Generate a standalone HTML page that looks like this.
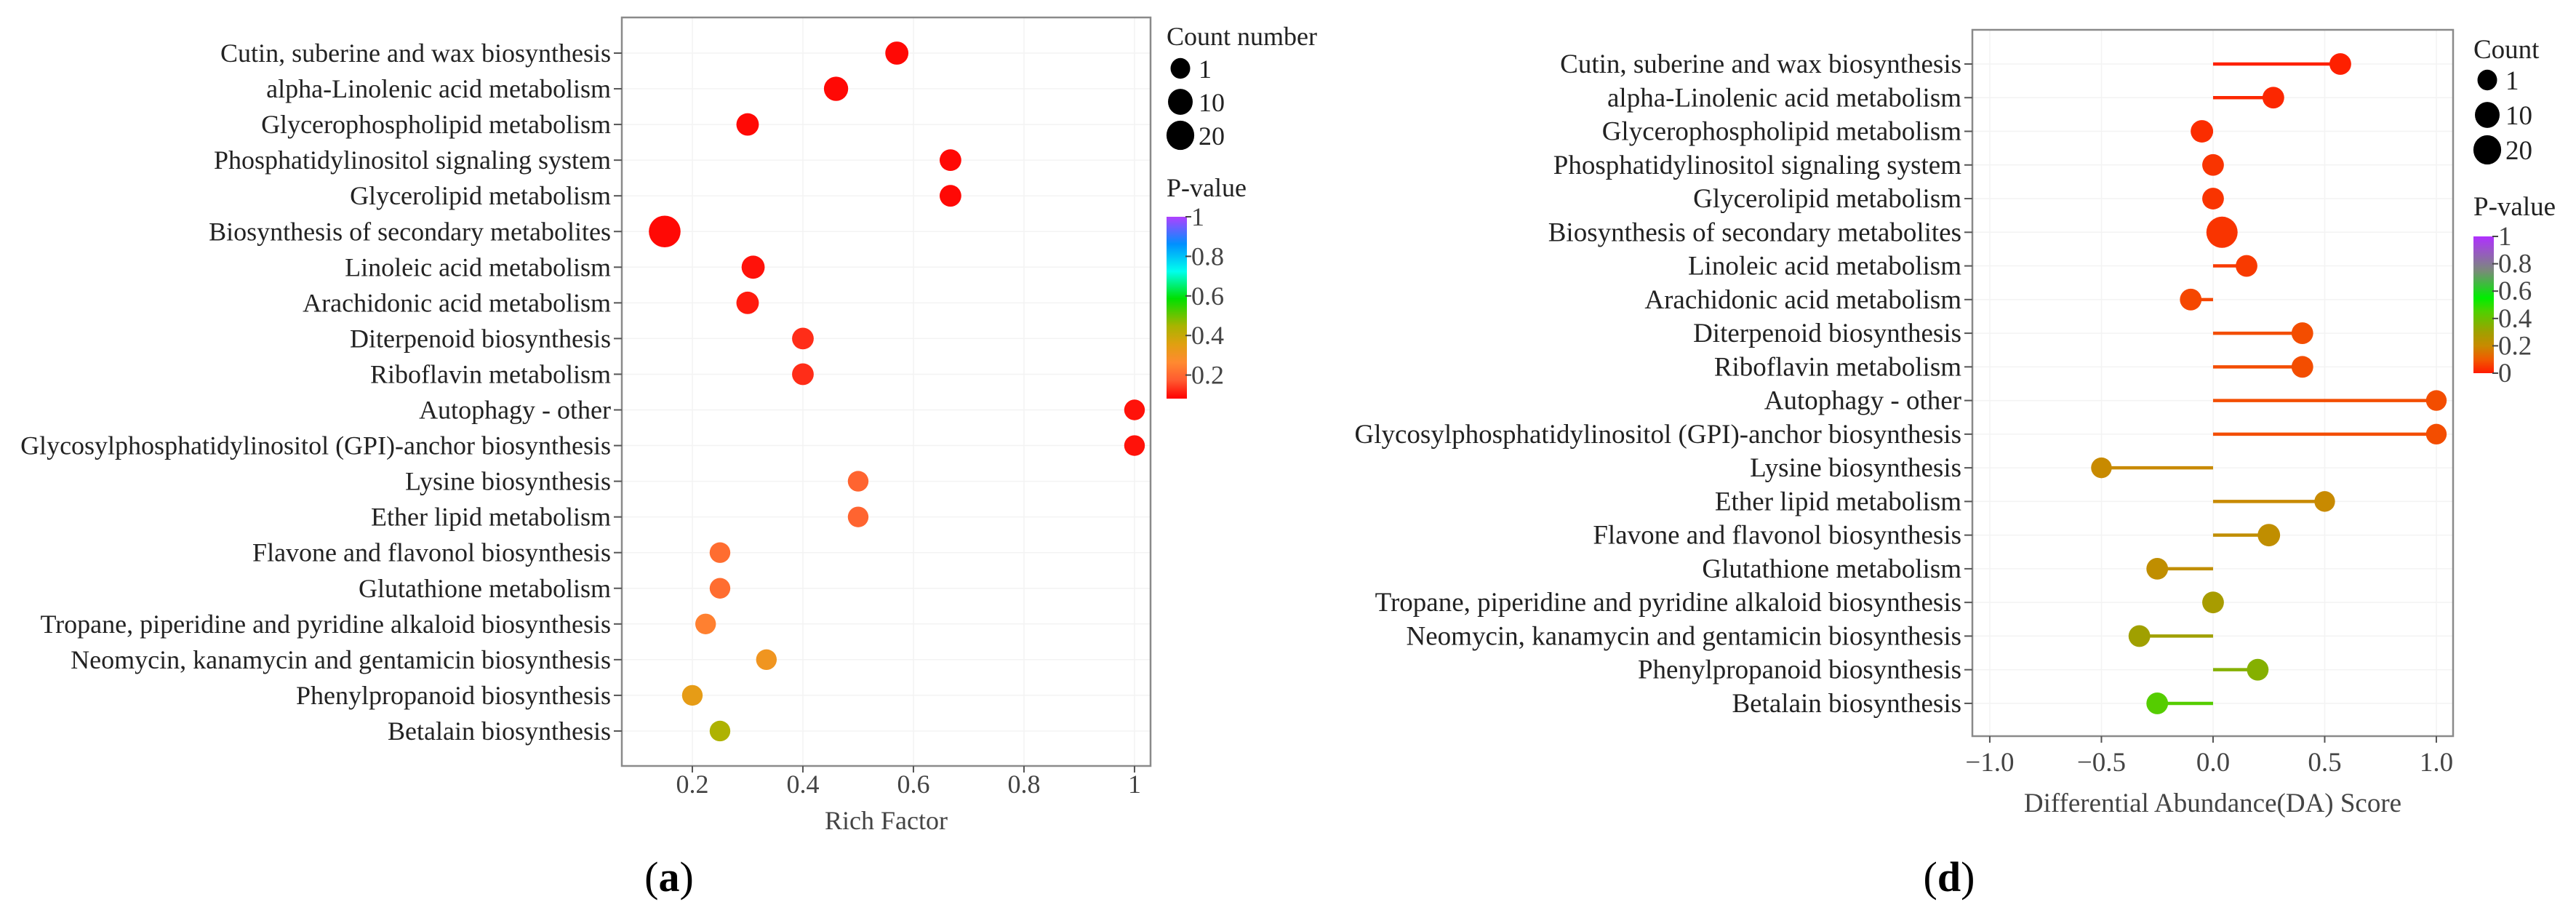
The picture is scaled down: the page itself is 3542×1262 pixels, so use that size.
<!DOCTYPE html>
<html><head><meta charset="utf-8"><style>
html,body{margin:0;padding:0;background:#fff;}
svg{display:block;font-family:"Liberation Serif",serif;}
</style></head><body>
<svg id="fig" width="3542" height="1262" viewBox="0 0 3542 1262" xmlns="http://www.w3.org/2000/svg">
<defs>
<linearGradient id="gradA" x1="0" y1="1" x2="0" y2="0">
<stop offset="0" stop-color="#ff0000"/><stop offset="0.1" stop-color="#ff5a30"/><stop offset="0.2" stop-color="#ff8a30"/><stop offset="0.3" stop-color="#e0a010"/><stop offset="0.4" stop-color="#a8b400"/><stop offset="0.55" stop-color="#00e000"/><stop offset="0.7" stop-color="#00ffee"/><stop offset="0.85" stop-color="#0090ff"/><stop offset="1" stop-color="#b040ff"/>
</linearGradient>
<linearGradient id="gradD" x1="0" y1="1" x2="0" y2="0">
<stop offset="0" stop-color="#ff1a00"/><stop offset="0.1" stop-color="#f05a00"/><stop offset="0.2" stop-color="#c88a00"/><stop offset="0.3" stop-color="#a0a000"/><stop offset="0.45" stop-color="#50d000"/><stop offset="0.55" stop-color="#00ee00"/><stop offset="0.75" stop-color="#7a8a7a"/><stop offset="1" stop-color="#b030ff"/>
</linearGradient>
</defs>
<g id="chartA"></g>
<g id="chartD"></g>
</svg>
<script>
// ---- Data: panel (a)
const categoriesA = ["Cutin, suberine and wax biosynthesis","alpha-Linolenic acid metabolism","Glycerophospholipid metabolism","Phosphatidylinositol signaling system","Glycerolipid metabolism","Biosynthesis of secondary metabolites","Linoleic acid metabolism","Arachidonic acid metabolism","Diterpenoid biosynthesis","Riboflavin metabolism","Autophagy - other","Glycosylphosphatidylinositol (GPI)-anchor biosynthesis","Lysine biosynthesis","Ether lipid metabolism","Flavone and flavonol biosynthesis","Glutathione metabolism","Tropane, piperidine and pyridine alkaloid biosynthesis","Neomycin, kanamycin and gentamicin biosynthesis","Phenylpropanoid biosynthesis","Betalain biosynthesis"];
const richFactorA = [0.57,0.46,0.30,0.667,0.667,0.15,0.31,0.30,0.40,0.40,1.0,1.0,0.50,0.50,0.25,0.25,0.224,0.334,0.20,0.25];
const countA = [4,6,3,2,2,30,4,3,2,2,1,1,1,1,1,1,1,1,1,1];
const pValueA = [0.01,0.01,0.01,0.01,0.01,0.01,0.02,0.03,0.05,0.05,0.02,0.02,0.12,0.12,0.14,0.14,0.18,0.25,0.28,0.39];
const xTicksA = [0.2,0.4,0.6,0.8,1];
const xTickLabelsA = ["0.2","0.4","0.6","0.8","1"];
const pTicksA = [1,0.8,0.6,0.4,0.2];
const pTickLabelsA = ["1","0.8","0.6","0.4","0.2"];
// ---- Data: panel (d)
const categoriesD = ["Cutin, suberine and wax biosynthesis","alpha-Linolenic acid metabolism","Glycerophospholipid metabolism","Phosphatidylinositol signaling system","Glycerolipid metabolism","Biosynthesis of secondary metabolites","Linoleic acid metabolism","Arachidonic acid metabolism","Diterpenoid biosynthesis","Riboflavin metabolism","Autophagy - other","Glycosylphosphatidylinositol (GPI)-anchor biosynthesis","Lysine biosynthesis","Ether lipid metabolism","Flavone and flavonol biosynthesis","Glutathione metabolism","Tropane, piperidine and pyridine alkaloid biosynthesis","Neomycin, kanamycin and gentamicin biosynthesis","Phenylpropanoid biosynthesis","Betalain biosynthesis"];
const daScoreD = [0.57,0.27,-0.05,0.0,0.0,0.04,0.15,-0.1,0.4,0.4,1.0,1.0,-0.5,0.5,0.25,-0.25,0.0,-0.33,0.2,-0.25];
const countD = [2,2,3,2,2,28,2,2,2,2,1,1,1,1,3,2,2,2,2,2];
const pValueD = [0.01,0.02,0.03,0.04,0.04,0.04,0.05,0.07,0.08,0.08,0.08,0.08,0.2,0.2,0.22,0.22,0.28,0.3,0.35,0.44];
const xTicksD = [-1,-0.5,0,0.5,1];
const xTickLabelsD = ["\u22121.0","\u22120.5","0.0","0.5","1.0"];
const pTicksD = [1,0.8,0.6,0.4,0.2,0];
const pTickLabelsD = ["1","0.8","0.6","0.4","0.2","0"];
const legendCounts = [1,10,20];

const NS = "http://www.w3.org/2000/svg";
function mk(parent, tag, attrs, text){
  const e = document.createElementNS(NS, tag);
  for (const k in attrs) e.setAttribute(k, attrs[k]);
  if (text !== undefined) e.textContent = text;
  parent.appendChild(e);
  return e;
}
function hex(c){return [parseInt(c.slice(1,3),16),parseInt(c.slice(3,5),16),parseInt(c.slice(5,7),16)];}
function ramp(stops, v){
  for (let i=1;i<stops.length;i++){
    if (v<=stops[i][0]){
      const a=stops[i-1],b=stops[i];const t=(v-a[0])/(b[0]-a[0]);
      const ca=hex(a[1]),cb=hex(b[1]);
      return "rgb("+ca.map((x,j)=>Math.round(x+(cb[j]-x)*t)).join(",")+")";
    }
  }
  return stops[stops.length-1][1];
}
const stopsA=[[0,"#ff0000"],[0.1,"#ff5a30"],[0.2,"#ff8a30"],[0.3,"#e0a010"],[0.4,"#a8b400"],[0.55,"#00e000"],[0.7,"#00ffee"],[0.85,"#0090ff"],[1,"#b040ff"]];
const stopsD=[[0,"#ff1a00"],[0.1,"#f05a00"],[0.2,"#c88a00"],[0.3,"#a0a000"],[0.45,"#50d000"],[0.55,"#00ee00"],[0.75,"#7a8a7a"],[1,"#b030ff"]];
function rad(n){return 12.5+1.7*Math.sqrt(n);}

function buildChart(cfg){
  const g = document.getElementById(cfg.id);
  const P = cfg.panel;
  const xs = v => P.l + (v - cfg.xmin)/(cfg.xmax-cfg.xmin)*(P.r-P.l);
  const ys = i => cfg.y0 + i*cfg.dy;
  cfg.cats.forEach((c,i)=>{
    const gl = mk(g,"line",{x1:P.l,x2:P.r,y1:ys(i),y2:ys(i),stroke:"#f3f3f3","stroke-width":1.5});
    
    
  });
  cfg.xt.forEach(v=>{
    const gl = mk(g,"line",{x1:xs(v),x2:xs(v),y1:P.t,y2:P.b,stroke:"#f3f3f3","stroke-width":1.5});
    
    
  });
  const fr = mk(g,"rect",{x:P.l,y:P.t,width:P.r-P.l,height:P.b-P.t,fill:"none",stroke:"#8a8a8a","stroke-width":2.5});
  
  
  cfg.cats.forEach((c,i)=>{
    const tk = mk(g,"line",{x1:P.l-11,x2:P.l,y1:ys(i),y2:ys(i),stroke:"#555","stroke-width":2});
    
    
    const t = mk(g,"text",{x:P.l-15,y:ys(i)+12,"text-anchor":"end","font-size":cfg.fs,fill:"#222"},c);
    
    
  });
  cfg.xt.forEach((v,i)=>{
    const tk = mk(g,"line",{x1:xs(v),x2:xs(v),y1:P.b,y2:P.b+9,stroke:"#555","stroke-width":2});
    
    
    const t = mk(g,"text",{x:xs(v),y:cfg.xtY,"text-anchor":"middle","font-size":cfg.fs,fill:"#444"},cfg.xtl[i]);
    
    
  });
  const xt = mk(g,"text",{x:(P.l+P.r)/2,y:cfg.xtitleY,"text-anchor":"middle","font-size":cfg.fs,fill:"#444"},cfg.xtitle);
  
  
  cfg.vals.forEach((v,i)=>{
    const col = ramp(cfg.stops, cfg.pv[i]);
    if (cfg.lollipop){
      const ln = mk(g,"line",{x1:xs(0),x2:xs(v),y1:ys(i),y2:ys(i),stroke:col,"stroke-width":4.5});
      
      
    }
    const r = rad(cfg.cnt[i]);
    const c = mk(g,"ellipse",{cx:xs(v),cy:ys(i),rx:r,ry:r,fill:col});
    
    
  });
  const L = cfg.leg;
  const lt = mk(g,"text",{x:L.x,y:L.titleY,"font-size":cfg.fs,fill:"#222"},cfg.sizeTitle);
  
  
  legendCounts.forEach((n,i)=>{
    const r = rad(n);
    const y = L.dotY0 + i*L.dotDy;
    const d = mk(g,"ellipse",{cx:L.x+19,cy:y,rx:r*0.95,ry:r,fill:"#000"});
    
    
    const t = mk(g,"text",{x:L.x+44,y:y+13,"font-size":cfg.fs,fill:"#222"},String(n));
    
    
  });
  const pt = mk(g,"text",{x:L.x,y:L.pTitleY,"font-size":cfg.fs,fill:"#222"},"P-value");
  
  
  const pys = v => L.barTop + (1-v)*L.barPer;
  const bar = mk(g,"rect",{x:L.x,y:L.barTop,width:28,height:L.barBot-L.barTop,fill:cfg.grad});
  
  
  cfg.pt.forEach((v,i)=>{
    const tk = mk(g,"line",{x1:L.x+26,x2:L.x+34,y1:pys(v),y2:pys(v),stroke:"#444","stroke-width":2});
    
    
    const t = mk(g,"text",{x:L.x+34,y:pys(v)+12,"font-size":cfg.fs,fill:"#444"},cfg.ptl[i]);
    
    
  });
  const pl = mk(g,"text",{x:cfg.lab.x,y:cfg.lab.y,"text-anchor":"middle","font-size":58,fill:"#000"});
  
  
  mk(pl,"tspan",{},"(");
  mk(pl,"tspan",{"font-weight":"bold"},cfg.lab.t);
  mk(pl,"tspan",{},")");
}

buildChart({id:"chartA",panel:{l:855,r:1582,t:24,b:1053},xmin:0.0724,xmax:1.029,y0:73,dy:49.05,
  cats:categoriesA,vals:richFactorA,cnt:countA,pv:pValueA,stops:stopsA,lollipop:false,
  xt:xTicksA,xtl:xTickLabelsA,xtY:1090,xtitle:"Rich Factor",xtitleY:1140,fs:36,
  leg:{x:1604,titleY:62,dotY0:94,dotDy:46,pTitleY:270,barTop:298,barBot:548,barPer:272},
  sizeTitle:"Count number",grad:"url(#gradA)",pt:pTicksA,ptl:pTickLabelsA,lab:{x:920,y:1225,t:"a"}});

buildChart({id:"chartD",panel:{l:2712,r:3373,t:41,b:1012},xmin:-1.078,xmax:1.075,y0:88,dy:46.26,
  cats:categoriesD,vals:daScoreD,cnt:countD,pv:pValueD,stops:stopsD,lollipop:true,
  xt:xTicksD,xtl:xTickLabelsD,xtY:1060,xtitle:"Differential Abundance(DA) Score",xtitleY:1116,fs:37,
  leg:{x:3401,titleY:80,dotY0:110,dotDy:48,pTitleY:296,barTop:325,barBot:513,barPer:188},
  sizeTitle:"Count",grad:"url(#gradD)",pt:pTicksD,ptl:pTickLabelsD,lab:{x:2680,y:1225,t:"d"}});
</script>
</body></html>
